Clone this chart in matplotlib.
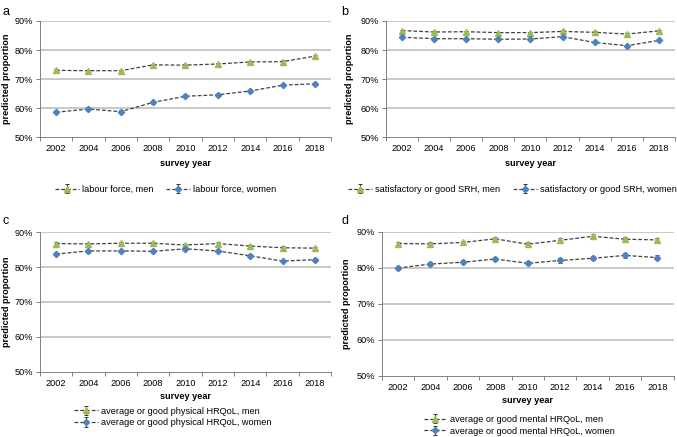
import matplotlib.pyplot as plt
from matplotlib.ticker import FuncFormatter
from matplotlib.transforms import blended_transform_factory

plt.rcParams['font.family'] = ['Liberation Sans', 'DejaVu Sans']

years = ['2002', '2004', '2006', '2008', '2010', '2012', '2014', '2016', '2018']

# panel a: labour force
a_men = [73.0, 72.9, 72.9, 74.9, 74.8, 75.2, 75.9, 76.0, 77.9]
a_women = [58.6, 59.7, 58.8, 62.0, 64.1, 64.6, 65.9, 67.9, 68.4]
a_men_err = [0.4, 0.4, 0.4, 0.4, 0.4, 0.4, 0.4, 0.4, 0.4]
a_women_err = [0.4, 0.4, 0.4, 0.4, 0.4, 0.4, 0.4, 0.4, 0.4]

# panel b: satisfactory or good SRH
b_men = [86.7, 86.2, 86.3, 86.0, 86.0, 86.4, 86.1, 85.5, 86.6]
b_women = [84.4, 83.9, 83.9, 83.7, 83.8, 84.6, 82.6, 81.5, 83.3]
b_men_err = [0.35, 0.35, 0.35, 0.35, 0.35, 0.35, 0.35, 0.35, 0.35]
b_women_err = [0.35, 0.35, 0.35, 0.35, 0.35, 0.35, 0.35, 0.35, 0.35]

# panel c: average or good physical HRQoL
c_men = [86.7, 86.6, 86.8, 86.8, 86.3, 86.7, 86.0, 85.5, 85.4]
c_women = [83.7, 84.6, 84.6, 84.5, 85.2, 84.6, 83.2, 81.7, 82.1]
c_men_err = [0.4, 0.4, 0.4, 0.4, 0.4, 0.4, 0.4, 0.4, 0.4]
c_women_err = [0.4, 0.4, 0.4, 0.4, 0.4, 0.4, 0.4, 0.4, 0.4]

# panel d: average or good mental HRQoL
d_men = [86.7, 86.6, 87.0, 88.0, 86.5, 87.6, 88.7, 87.9, 87.7]
d_women = [79.9, 81.0, 81.5, 82.4, 81.2, 82.0, 82.6, 83.4, 82.8]
d_men_err = [0.5, 0.5, 0.5, 0.5, 0.5, 0.5, 0.5, 0.5, 0.5]
d_women_err = [0.6, 0.6, 0.6, 0.6, 0.6, 0.6, 0.6, 0.6, 0.6]

GREEN = '#9bbb59'
BLUE = '#4f81bd'
LINE = '#404040'
GRID = '#bfbfbf'
FS = 6.6

fig = plt.figure(figsize=(6.77, 4.37), dpi=100)


def panel(rect, letter, letter_pos, men, women, men_err, women_err,
          men_lab, women_lab, legend_pos, ncol, ylab_x, xlab_pad):
    ax = fig.add_axes(rect)
    x = list(range(len(years)))
    ax.errorbar(x, men, yerr=men_err, color=LINE, ls=(0, (3, 1.6)), lw=0.9,
                marker='^', ms=4, mfc=GREEN, mec=GREEN, ecolor='#333333',
                elinewidth=0.7, capsize=1.5, capthick=0.7, label=men_lab, zorder=3)
    ax.errorbar(x, women, yerr=women_err, color=LINE, ls=(0, (3, 1.6)), lw=0.9,
                marker='D', ms=3.2, mfc=BLUE, mec=BLUE, ecolor='#333333',
                elinewidth=0.7, capsize=1.5, capthick=0.7, label=women_lab, zorder=3)
    ax.set_xlim(-0.5, len(years) - 0.5)
    ax.set_ylim(50, 90)
    ax.set_yticks([50, 60, 70, 80, 90])
    ax.yaxis.set_major_formatter(FuncFormatter(lambda v, p: f'{v:.0f}%'))
    ax.set_xticks(x)
    ax.set_xticklabels(years)
    ax.set_xticks([i - 0.5 for i in range(len(years) + 1)], minor=True)
    ax.tick_params(axis='x', which='major', length=0, labelsize=FS, pad=5)
    ax.tick_params(axis='x', which='minor', length=3, color='#808080', width=0.7)
    ax.tick_params(axis='y', length=3, color='#808080', width=0.7, labelsize=FS, pad=2)
    for s in ['top', 'right']:
        ax.spines[s].set_visible(False)
    for s in ['left', 'bottom']:
        ax.spines[s].set_color('#808080')
        ax.spines[s].set_linewidth(0.7)
    for v in [60, 70, 80, 90]:
        ax.axhline(v, color=GRID, lw=1.2, zorder=1)
    ax.set_xlabel('survey year', fontsize=FS, fontweight='bold', labelpad=xlab_pad)
    ax.set_ylabel('predicted proportion', fontsize=FS, fontweight='bold')
    ax.yaxis.set_label_coords(ylab_x, 0.5,
                              transform=blended_transform_factory(fig.transFigure, ax.transAxes))
    fig.text(letter_pos[0], letter_pos[1], letter, fontsize=9)
    ax.legend(loc='center', bbox_to_anchor=legend_pos, bbox_transform=fig.transFigure,
              ncol=ncol, frameon=False, fontsize=FS, handlelength=2.6,
              handletextpad=0.3, columnspacing=1.4, labelspacing=0.3,
              borderpad=0)
    return ax


panel([0.059, 0.686, 0.430, 0.266], 'a', (0.004, 0.965),
      a_men, a_women, a_men_err, a_women_err,
      'labour force, men', 'labour force, women',
      (0.245, 0.567), 2, 0.016, 4)

panel([0.570, 0.686, 0.427, 0.266], 'b', (0.504, 0.965),
      b_men, b_women, b_men_err, b_women_err,
      'satisfactory or good SRH, men', 'satisfactory or good SRH, women',
      (0.757, 0.567), 2, 0.523, 4)

panel([0.059, 0.149, 0.430, 0.320], 'c', (0.004, 0.487),
      c_men, c_women, c_men_err, c_women_err,
      'average or good physical HRQoL, men', 'average or good physical HRQoL, women',
      (0.255, 0.046), 1, 0.016, 3)

panel([0.564, 0.140, 0.431, 0.330], 'd', (0.504, 0.487),
      d_men, d_women, d_men_err, d_women_err,
      'average or good mental HRQoL, men', 'average or good mental HRQoL, women',
      (0.767, 0.027), 1, 0.518, 3)

fig.savefig('out.png', dpi=100)
